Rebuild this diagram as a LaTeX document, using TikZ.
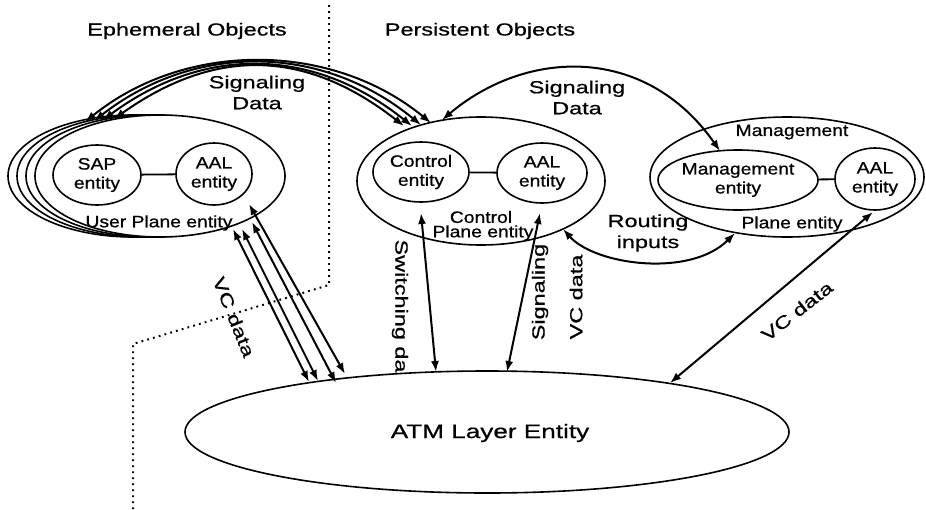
\documentclass[tikz,border=0pt]{standalone}
\usepackage{fontspec}
\setmainfont{Liberation Sans}
\newfontfamily\bigf{Liberation Sans}[FakeStretch=1.34,FakeBold=0.7]
\newfontfamily\smallf{Liberation Sans}[FakeStretch=1.17,FakeBold=0.7]
\usetikzlibrary{shapes.geometric,arrows.meta}
\tikzset{
  ell/.style={ellipse, draw, line width=1.6pt, inner sep=0pt, fill=white},
  conn/.style={line width=1.8pt},
  dbl/.style={line width=2pt, >={Latex[length=11pt,width=8pt]}, <->},
  dotline/.style={line width=2pt, dash pattern=on 1.8pt off 4.2pt},
  big/.style={font=\bigf\fontsize{17.5}{21}\selectfont, inner sep=0pt, align=center},
  sm/.style={font=\smallf\fontsize{16.5}{19}\selectfont, inner sep=0pt, align=center},
  atmf/.style={font=\bigf\fontsize{19.5}{23}\selectfont, inner sep=0pt, align=center}
}
\begin{document}
\begin{tikzpicture}[x=1pt,y=-1pt]
\useasboundingbox[fill=white] (0,0) rectangle (926,509);

% separator
\coordinate (d0) at (329,5);
\coordinate (d1) at (329,285);
\coordinate (d2) at (133,344);
\coordinate (d3) at (133,509);
\draw[dotline] (d0) -- (d1) -- (d2) -- (d3);

% headings
\node[big] (hE) at (187,31) {Ephemeral Objects};
\node[big] (hP) at (480,31) {Persistent Objects};

% user plane (stacked)
\node[ell, minimum width=250pt, minimum height=122pt] (up3) at (133,176) {};
\node[ell, minimum width=250pt, minimum height=122pt] (up2) at (142,176) {};
\node[ell, minimum width=250pt, minimum height=122pt] (up1) at (151,176) {};
\node[ell, minimum width=250pt, minimum height=122pt] (up) at (160,176) {};
\node[ell, minimum width=88pt, minimum height=60pt] (sap) at (97,175) {};
\node[ell, minimum width=76pt, minimum height=62pt] (aal1) at (214,174) {};
\draw[conn] (sap) -- (aal1);
\node[sm] (tsap) at (sap) {SAP\\entity};
\node[sm] (taal1) at (aal1) {AAL\\entity};
\node[sm] (tup) at (159,223) {User Plane entity};

% control plane
\node[ell, minimum width=248pt, minimum height=128pt] (cp) at (481,181) {};
\node[ell, minimum width=96pt, minimum height=60pt] (ctrl) at (421,172) {};
\node[ell, minimum width=90pt, minimum height=60pt] (aal2) at (542,173) {};
\draw[conn] (ctrl) -- (aal2);
\node[sm] (tctrl) at (ctrl) {Control\\entity};
\node[sm] (taal2) at (aal2) {AAL\\entity};
\node[sm] (tcp1) at (481,217) {Control};
\node[sm] (tcp2) at (483,233) {Plane entity};

% management plane
\node[ell, minimum width=274pt, minimum height=120pt] (mp) at (787,177) {};
\node[ell, minimum width=160pt, minimum height=60pt] (mgmt) at (738,180) {};
\node[ell, minimum width=80pt, minimum height=62pt] (aal3) at (875,179) {};
\draw[conn] (mgmt) -- (aal3);
\node[sm] (tmgmt) at (mgmt) {Management\\entity};
\node[sm] (taal3) at (aal3) {AAL\\entity};
\node[sm] (tmp1) at (792,132) {Management};
\node[sm] (tmp2) at (792,224) {Plane entity};

% ATM layer
\node[ell, minimum width=604pt, minimum height=122pt] (atm) at (487,432) {};
\node[atmf] (tatm) at (490,433) {ATM Layer Entity};

% signaling data arcs (left bundle)
\coordinate (sl1) at (85,122);  \coordinate (sr1) at (431,123);
\coordinate (sl2) at (94,121);  \coordinate (sr2) at (421,125);
\coordinate (sl3) at (103,120); \coordinate (sr3) at (412,126);
\coordinate (sl4) at (114,119); \coordinate (sr4) at (404,126);
\draw[dbl] (sl1) .. controls (185,41) and (331,41) .. (sr1);
\draw[dbl] (sl2) .. controls (194,43) and (321,43) .. (sr2);
\draw[dbl] (sl3) .. controls (203,46) and (312,46) .. (sr3);
\draw[dbl] (sl4) .. controls (214,48) and (304,48) .. (sr4);
\node[big] (tsd1) at (257,92.5) {Signaling\\Data};

% signaling data arc (right)
\coordinate (rs1) at (442,120);
\coordinate (rs2) at (720,151);
\draw[dbl] (rs1) .. controls (526,49) and (645,44) .. (rs2);
\node[big] (tsd2) at (577,97.5) {Signaling\\Data};

% routing inputs
\coordinate (ro1) at (563,229);
\coordinate (ro2) at (735,233);
\draw[dbl] (ro1) .. controls (595,265) and (690,278) .. (ro2);
\node[big] (trout) at (648,233) {Routing\\inputs};

% VC data bundle (left)
\coordinate (t1) at (233,229); \coordinate (b1) at (309,382);
\coordinate (t2) at (242,229); \coordinate (b2) at (318,381);
\coordinate (t3) at (252,222); \coordinate (b3) at (336,383);
\coordinate (t4) at (249,204); \coordinate (b4) at (345,374);
\draw[dbl] (t1) -- (b1);
\draw[dbl] (t2) -- (b2);
\draw[dbl] (t3) -- (b3);
\draw[dbl] (t4) -- (b4);
\node[big, rotate=-68] (tvc1) at (234,317) {VC data};

% switching data
\coordinate (sw1) at (421,213);
\coordinate (sw2) at (436,372);
\draw[dbl] (sw1) -- (sw2);
\node[big, rotate=-90] (tsw) at (400,306) {Switching da};

% signaling VC data
\coordinate (sv1) at (540,213);
\coordinate (sv2) at (507,372);
\draw[dbl] (sv1) -- (sv2);
\node[big, rotate=90] (tsv1) at (540,292) {Signaling};
\node[big, rotate=90] (tsv2) at (576,297) {VC data};

% VC data (right)
\coordinate (rv1) at (873,212);
\coordinate (rv2) at (670,383);
\draw[dbl] (rv1) -- (rv2);
\node[big, rotate=38] (tvc2) at (797,311) {VC data};
\end{tikzpicture}
\end{document}
